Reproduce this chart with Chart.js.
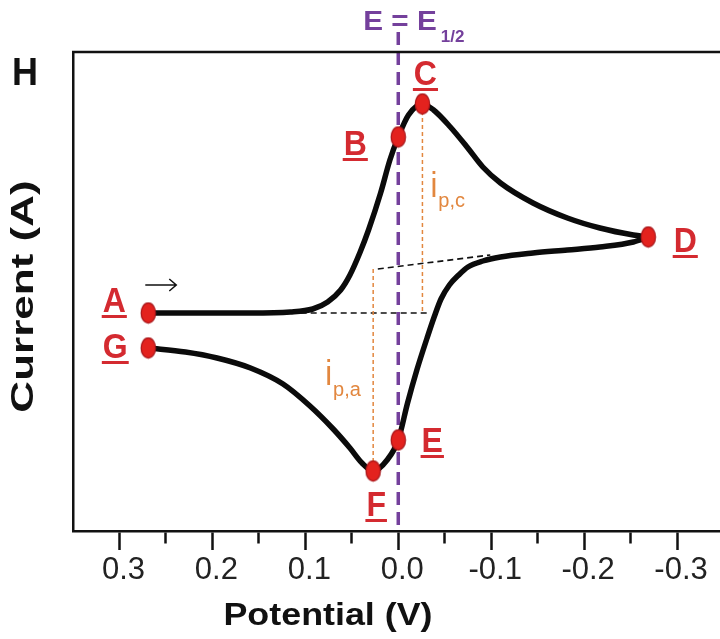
<!DOCTYPE html>
<html>
<head>
<meta charset="utf-8">
<script src="https://cdn.jsdelivr.net/npm/chart.js@4.4.1/dist/chart.umd.min.js"></script>
<style>
  html, body { margin: 0; padding: 0; background: #ffffff; }
  #wrap { width: 720px; height: 639px; position: relative; overflow: hidden; }
</style>
</head>
<body>
<div id="wrap"><canvas id="cv" width="720" height="639"></canvas></div>
<script>
// ---------- data (potential in V, current in arbitrary units) ----------
const forwardPotential = [0.269, 0.213, 0.159, 0.116, 0.092, 0.076, 0.062, 0.052, 0.041, 0.032, 0.019, 0.009, 0.000, -0.011, -0.026, -0.038, -0.056, -0.074, -0.091, -0.110, -0.145, -0.182, -0.217, -0.253, -0.269];
const forwardCurrent   = [0.0, 0.0, 0.0, 0.1, 0.4, 1.1, 2.3, 3.8, 6.1, 8.3, 12.0, 15.3, 17.6, 19.8, 20.9, 20.3, 18.6, 16.6, 14.6, 13.0, 11.0, 9.5, 8.5, 7.8, 7.6];

const reversePotential = [0.269, 0.229, 0.195, 0.159, 0.124, 0.095, 0.070, 0.052, 0.039, 0.027, 0.012, 0.000, -0.010, -0.020, -0.031, -0.039, -0.046, -0.055, -0.065, -0.075, -0.091, -0.110, -0.145, -0.182, -0.217, -0.253, -0.269];
const reverseCurrent   = [-3.5, -3.9, -4.5, -5.5, -7.1, -9.3, -11.6, -13.5, -15.0, -15.8, -14.7, -12.7, -9.0, -5.7, -2.5, -0.3, 1.4, 2.8, 3.8, 4.6, 5.2, 5.6, 6.0, 6.3, 6.6, 7.1, 7.6];

const markerLabels    = ['A', 'B', 'C', 'D', 'E', 'F', 'G'];
const markerPotential = [0.269, 0.000, -0.026, -0.269, 0.000, 0.027, 0.269];
const markerCurrent   = [0.0, 17.6, 20.9, 7.6, -12.7, -15.8, -3.5];

const halfWavePotential = 0.0;
const cathodicPeakPotential = -0.026;
const cathodicPeakCurrent = 20.9;
const cathodicBaseCurrent = 0.0;
const anodicPeakPotential = 0.027;
const anodicPeakCurrent = -15.8;
const anodicBaseCurrent = 4.4;
const cathodicBaselinePotential = [0.105, -0.031];
const cathodicBaselineCurrent   = [0.0, 0.0];
const anodicBaselinePotential   = [0.022, -0.099];
const anodicBaselineCurrent     = [4.4, 5.8];

const xTickStep = 0.05;
const xMin = -0.3462, xMax = 0.35;
const yMin = -21.8, yMax = 26.1;
const halfWaveLineTop = 28.1;

const xTitle = 'Potential (V)';
const yTitle = 'Current (A)';
const panelLabel = 'H';

// ---------- helpers ----------
function pts(xs, ys) { return xs.map((x, i) => ({ x: x, y: ys[i] })); }

const dot = document.createElement('canvas');
dot.width = 17; dot.height = 23;
(function () {
  const c = dot.getContext('2d');
  c.beginPath();
  c.ellipse(8.5, 11.5, 7.2, 10.2, 0, 0, Math.PI * 2);
  c.fillStyle = '#e3221e';
  c.fill();
  c.lineWidth = 1.2;
  c.strokeStyle = '#a8161a';
  c.stroke();
})();

const FONT = '"Liberation Sans", Arial, sans-serif';
const RED = '#d42a30';
const ORANGE = '#e2873f';
const PURPLE = '#74409c';

function txt(ctx, s, x, y, font, color, sx, sy, align, base) {
  ctx.save();
  ctx.translate(x, y);
  ctx.scale(sx, sy);
  ctx.font = font;
  ctx.fillStyle = color;
  ctx.textAlign = align || 'left';
  ctx.textBaseline = base || 'alphabetic';
  ctx.fillText(s, 0, 0);
  const w = ctx.measureText(s).width * sx;
  ctx.restore();
  return w;
}

const labelOffsets = {
  A: [-34, -1], B: [-43, 18], C: [3, -19], D: [37, 15], E: [34, 12], F: [3, 45], G: [-33, 10]
};

const annotate = {
  id: 'annotate',
  afterDraw(chart) {
    const ctx = chart.ctx;
    const xs = chart.scales.x, ys = chart.scales.y;
    const area = chart.chartArea;
    ctx.save();
    // frame top line
    ctx.strokeStyle = '#111';
    ctx.lineWidth = 2.5;
    ctx.beginPath();
    ctx.moveTo(area.left - 1, area.top);
    ctx.lineTo(area.right + 2, area.top);
    ctx.stroke();

    // point labels (underlined)
    markerLabels.forEach((lab, i) => {
      const px = xs.getPixelForValue(markerPotential[i]);
      const py = ys.getPixelForValue(markerCurrent[i]);
      const off = labelOffsets[lab];
      const cx = px + off[0], by = py + off[1];
      const w = txt(ctx, lab, cx, by, 'bold 32px ' + FONT, RED, 1, 1.1, 'center');
      ctx.fillStyle = RED;
      ctx.fillRect(cx - w / 2 - 1, by + 3, w + 2, 3);
    });

    // sweep arrow
    const ax = xs.getPixelForValue(markerPotential[0]) - 3;
    const ay = ys.getPixelForValue(markerCurrent[0]) - 28;
    ctx.strokeStyle = '#111';
    ctx.lineWidth = 1.5;
    ctx.beginPath();
    ctx.moveTo(ax, ay); ctx.lineTo(ax + 31, ay);
    ctx.moveTo(ax + 24, ay - 6); ctx.lineTo(ax + 31, ay); ctx.lineTo(ax + 24, ay + 6);
    ctx.stroke();

    // E = E1/2
    const x0 = xs.getPixelForValue(halfWavePotential);
    const wE = txt(ctx, 'E = E', x0 - 35, 30, 'bold 27px ' + FONT, PURPLE, 1.1, 1.0, 'left');
    txt(ctx, '1/2', x0 - 35 + wE + 4, 42, 'bold 17px ' + FONT, PURPLE, 1, 1, 'left');

    // i p,c
    const xc = xs.getPixelForValue(cathodicPeakPotential);
    const midc = (ys.getPixelForValue(cathodicPeakCurrent) + ys.getPixelForValue(cathodicBaseCurrent)) / 2;
    const wi = txt(ctx, 'i', xc + 8, midc - 12, '31px ' + FONT, ORANGE, 1, 1.15, 'left');
    txt(ctx, 'p,c', xc + 8 + wi + 1, midc - 2, '20px ' + FONT, ORANGE, 1, 1, 'left');

    // i p,a
    const xa = xs.getPixelForValue(anodicPeakPotential);
    const mida = (ys.getPixelForValue(anodicPeakCurrent) + ys.getPixelForValue(anodicBaseCurrent)) / 2;
    const wi2 = txt(ctx, 'i', xa - 48, mida + 15, '31px ' + FONT, ORANGE, 1, 1.15, 'left');
    txt(ctx, 'p,a', xa - 48 + wi2 + 1, mida + 26, '20px ' + FONT, ORANGE, 1, 1, 'left');

    // panel letter
    txt(ctx, panelLabel, 12, 85, 'bold 36px ' + FONT, '#111', 1, 1.1, 'left');

    // axis titles
    txt(ctx, xTitle, 328, 625, 'bold 32px ' + FONT, '#111', 1.12, 1, 'center');
    ctx.save();
    ctx.translate(24, (area.top + area.bottom) / 2 + 5);
    ctx.rotate(-Math.PI / 2);
    txt(ctx, yTitle, 0, 0, 'bold 31px ' + FONT, '#111', 1.42, 1, 'center', 'middle');
    ctx.restore();
    ctx.restore();
  }
};

const isMajor = (v) => Math.abs(Math.round(v * 10) - v * 10) < 1e-6;

new Chart(document.getElementById('cv'), {
  type: 'scatter',
  data: {
    datasets: [
      { label: 'points', data: pts(markerPotential, markerCurrent), pointStyle: dot, pointRadius: 10, showLine: false, clip: false },
      { label: 'forward', data: pts(forwardPotential, forwardCurrent), showLine: true, borderColor: '#0b0b0b', borderWidth: 5.5, pointRadius: 0, cubicInterpolationMode: 'monotone', borderCapStyle: 'round', borderJoinStyle: 'round' },
      { label: 'reverse', data: pts(reversePotential, reverseCurrent), showLine: true, borderColor: '#0b0b0b', borderWidth: 5.5, pointRadius: 0, cubicInterpolationMode: 'monotone', borderCapStyle: 'round', borderJoinStyle: 'round' },
      { label: 'E1/2', data: pts([halfWavePotential, halfWavePotential], [halfWaveLineTop, yMin]), showLine: true, borderColor: PURPLE, borderWidth: 3.5, borderDash: [13, 7], pointRadius: 0, clip: false },
      { label: 'ipc', data: pts([cathodicPeakPotential, cathodicPeakPotential], [cathodicPeakCurrent, cathodicBaseCurrent]), showLine: true, borderColor: ORANGE, borderWidth: 1.5, borderDash: [4, 3], pointRadius: 0 },
      { label: 'ipa', data: pts([anodicPeakPotential, anodicPeakPotential], [anodicBaseCurrent, anodicPeakCurrent]), showLine: true, borderColor: ORANGE, borderWidth: 1.5, borderDash: [4, 3], pointRadius: 0 },
      { label: 'base c', data: pts(cathodicBaselinePotential, cathodicBaselineCurrent), showLine: true, borderColor: '#111', borderWidth: 1.6, borderDash: [6, 4], pointRadius: 0 },
      { label: 'base a', data: pts(anodicBaselinePotential, anodicBaselineCurrent), showLine: true, borderColor: '#111', borderWidth: 1.6, borderDash: [6, 4], pointRadius: 0 }
    ]
  },
  options: {
    responsive: false,
    animation: false,
    events: [],
    layout: { autoPadding: false, padding: { top: 52, left: 0, right: 0, bottom: 0 } },
    plugins: { legend: { display: false }, tooltip: { enabled: false } },
    scales: {
      x: {
        type: 'linear',
        reverse: true,
        min: xMin,
        max: xMax,
        afterFit: (s) => { s.height = 108; s.paddingLeft = 0; s.paddingRight = 0; },
        border: { display: true, color: '#111', width: 2.5 },
        grid: {
          drawOnChartArea: false,
          drawTicks: true,
          tickLength: 19,
          tickWidth: 2.5,
          tickColor: '#111',
          tickBorderDash: [19, 80],
          tickBorderDashOffset: (c) => (c.tick && isMajor(c.tick.value)) ? 0 : 8
        },
        ticks: {
          stepSize: xTickStep,
          includeBounds: false,
          autoSkip: false,
          maxRotation: 0,
          padding: 2,
          labelOffset: 4,
          color: '#222',
          font: { family: FONT, size: 31 },
          callback: (v) => isMajor(v) ? (Math.abs(v) < 1e-9 ? '0.0' : v.toFixed(1)) : ''
        }
      },
      y: {
        type: 'linear',
        min: yMin,
        max: yMax,
        afterFit: (s) => { s.width = 73; },
        border: { display: true, color: '#111', width: 2.5 },
        grid: { display: false },
        ticks: { display: false }
      }
    }
  },
  plugins: [annotate]
});
</script>
</body>
</html>
